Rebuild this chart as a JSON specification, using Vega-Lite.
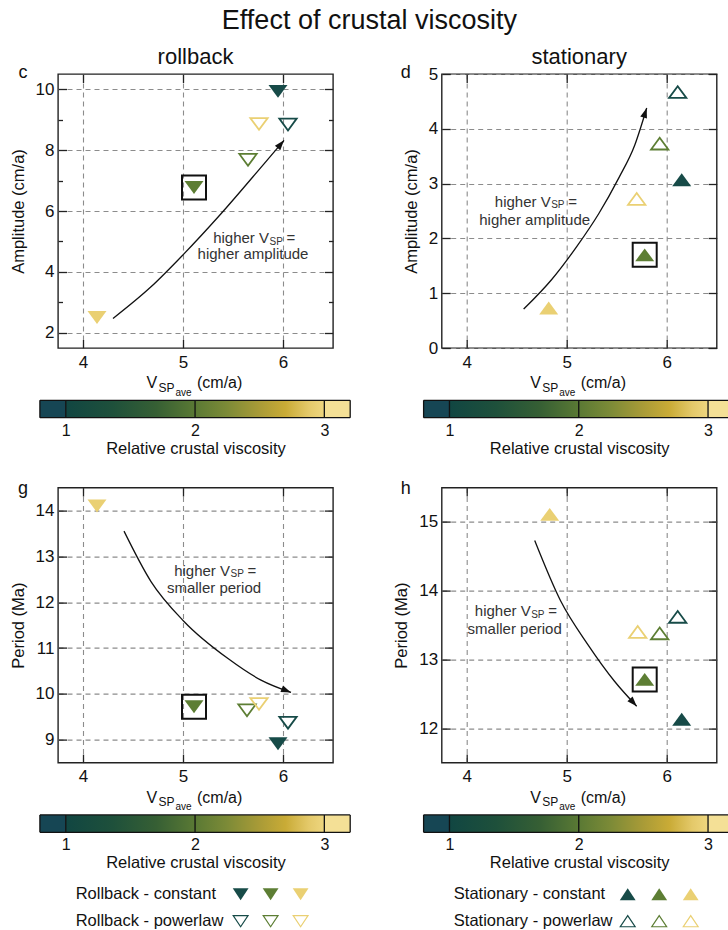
{
  "$schema": "https://vega.github.io/schema/vega-lite/v6.json",
  "padding": {"left": 9, "top": 6, "right": 0, "bottom": 2},
  "title": {"text": "Effect of crustal viscosity", "fontSize": 27, "fontWeight": "normal", "anchor": "middle", "offset": 10, "color": "#111"},
  "datasets": {
    "ampRollback": [
      {"vsp": 5.95, "val": 9.93, "visc": 1, "rheology": "constant"},
      {"vsp": 5.11, "val": 6.77, "visc": 2, "rheology": "constant"},
      {"vsp": 4.14, "val": 2.5, "visc": 3, "rheology": "constant"},
      {"vsp": 6.05, "val": 8.84, "visc": 1, "rheology": "powerlaw"},
      {"vsp": 5.65, "val": 7.68, "visc": 2, "rheology": "powerlaw"},
      {"vsp": 5.76, "val": 8.86, "visc": 3, "rheology": "powerlaw"}
    ],
    "ampStationary": [
      {"vsp": 6.15, "val": 3.07, "visc": 1, "rheology": "constant"},
      {"vsp": 5.78, "val": 1.7, "visc": 2, "rheology": "constant"},
      {"vsp": 4.82, "val": 0.73, "visc": 3, "rheology": "constant"},
      {"vsp": 6.11, "val": 4.67, "visc": 1, "rheology": "powerlaw"},
      {"vsp": 5.93, "val": 3.73, "visc": 2, "rheology": "powerlaw"},
      {"vsp": 5.7, "val": 2.72, "visc": 3, "rheology": "powerlaw"}
    ],
    "perRollback": [
      {"vsp": 5.95, "val": 8.91, "visc": 1, "rheology": "constant"},
      {"vsp": 5.11, "val": 9.72, "visc": 2, "rheology": "constant"},
      {"vsp": 4.14, "val": 14.1, "visc": 3, "rheology": "constant"},
      {"vsp": 6.05, "val": 9.37, "visc": 1, "rheology": "powerlaw"},
      {"vsp": 5.64, "val": 9.64, "visc": 2, "rheology": "powerlaw"},
      {"vsp": 5.76, "val": 9.78, "visc": 3, "rheology": "powerlaw"}
    ],
    "perStationary": [
      {"vsp": 6.15, "val": 12.13, "visc": 1, "rheology": "constant"},
      {"vsp": 5.78, "val": 12.71, "visc": 2, "rheology": "constant"},
      {"vsp": 4.83, "val": 15.11, "visc": 3, "rheology": "constant"},
      {"vsp": 6.11, "val": 13.62, "visc": 1, "rheology": "powerlaw"},
      {"vsp": 5.93, "val": 13.38, "visc": 2, "rheology": "powerlaw"},
      {"vsp": 5.71, "val": 13.4, "visc": 3, "rheology": "powerlaw"}
    ],
    "arrowC": [
      {"vsp": 4.3, "val": 2.47},
      {"vsp": 4.68, "val": 3.51},
      {"vsp": 5.0, "val": 4.56},
      {"vsp": 5.38, "val": 5.91},
      {"vsp": 5.81, "val": 7.55},
      {"vsp": 6.01, "val": 8.32, "tip": true}
    ],
    "arrowD": [
      {"vsp": 4.57, "val": 0.71},
      {"vsp": 4.85, "val": 1.25},
      {"vsp": 5.1, "val": 1.85},
      {"vsp": 5.32, "val": 2.45},
      {"vsp": 5.52, "val": 3.1},
      {"vsp": 5.68, "val": 3.7},
      {"vsp": 5.8, "val": 4.38, "tip": true}
    ],
    "arrowG": [
      {"vsp": 4.41, "val": 13.55},
      {"vsp": 4.68, "val": 12.45},
      {"vsp": 5.01, "val": 11.58},
      {"vsp": 5.45, "val": 10.77},
      {"vsp": 5.78, "val": 10.3},
      {"vsp": 6.08, "val": 10.03, "tip": true}
    ],
    "arrowH": [
      {"vsp": 4.68, "val": 14.73},
      {"vsp": 4.94, "val": 13.85},
      {"vsp": 5.21, "val": 13.22},
      {"vsp": 5.48, "val": 12.68},
      {"vsp": 5.7, "val": 12.32, "tip": true}
    ],
    "notesC": [
      {"vsp": 5.7, "val": 5.11, "part": "lead", "txt": "higher V"},
      {"vsp": 5.7, "val": 5.11, "part": "sub", "txt": "SP"},
      {"vsp": 5.7, "val": 5.11, "part": "tail", "txt": "="},
      {"vsp": 5.7, "val": 4.58, "part": "line2", "txt": "higher amplitude"}
    ],
    "notesD": [
      {"vsp": 4.68, "val": 2.67, "part": "lead", "txt": "higher V"},
      {"vsp": 4.68, "val": 2.67, "part": "sub", "txt": "SP"},
      {"vsp": 4.68, "val": 2.67, "part": "tail", "txt": "="},
      {"vsp": 4.68, "val": 2.33, "part": "line2", "txt": "higher amplitude"}
    ],
    "notesG": [
      {"vsp": 5.31, "val": 12.69, "part": "lead", "txt": "higher V"},
      {"vsp": 5.31, "val": 12.69, "part": "sub", "txt": "SP"},
      {"vsp": 5.31, "val": 12.69, "part": "tail", "txt": "="},
      {"vsp": 5.31, "val": 12.32, "part": "line2", "txt": "smaller period"}
    ],
    "notesH": [
      {"vsp": 4.48, "val": 13.7, "part": "lead", "txt": "higher V"},
      {"vsp": 4.48, "val": 13.7, "part": "sub", "txt": "SP"},
      {"vsp": 4.48, "val": 13.7, "part": "tail", "txt": "="},
      {"vsp": 4.48, "val": 13.44, "part": "line2", "txt": "smaller period"}
    ],
    "cbarRamp": [{"lo": 1, "hi": 3}],
    "cbarUnder": [{"lo": 0.8, "hi": 1}],
    "cbarOverFull": [{"lo": 3, "hi": 3.2}],
    "cbarOverCut": [{"lo": 3, "hi": 3.16}],
    "cbarLinesFull": [{"v": 0.8}, {"v": 1}, {"v": 2}, {"v": 3}, {"v": 3.2}],
    "cbarLinesCut": [{"v": 0.8}, {"v": 1}, {"v": 2}, {"v": 3}],
    "cbarEdgesFull": [{"lo": 0.8, "hi": 3.2, "edge": 0}, {"lo": 0.8, "hi": 3.2, "edge": 1}],
    "cbarEdgesCut": [{"lo": 0.8, "hi": 3.16, "edge": 0}, {"lo": 0.8, "hi": 3.16, "edge": 1}],
    "legendMarks": [
      {"visc": 1, "rheology": "constant"},
      {"visc": 2, "rheology": "constant"},
      {"visc": 3, "rheology": "constant"},
      {"visc": 1, "rheology": "powerlaw"},
      {"visc": 2, "rheology": "powerlaw"},
      {"visc": 3, "rheology": "powerlaw"}
    ],
    "legendRollback": [
      {"rheology": "constant", "txt": "Rollback - constant"},
      {"rheology": "powerlaw", "txt": "Rollback - powerlaw"}
    ],
    "legendStationary": [
      {"rheology": "constant", "txt": "Stationary - constant"},
      {"rheology": "powerlaw", "txt": "Stationary - powerlaw"}
    ]
  },
  "columns": 2,
  "bounds": "flush",
  "spacing": {"row": 52.3, "column": 108.7},
  "concat": [
    {
      "width": 275, "height": 274,
      "title": {"text": "rollback"},
      "resolve": {"axis": {"x": "independent", "y": "independent"}},
      "layer": [
        {
          "data": {"name": "ampRollback"},
          "transform": [{"filter": "datum.rheology === 'constant'"}],
          "mark": {"type": "point", "shape": "M -1 -0.68 L 1 -0.68 L 0 0.68 Z", "filled": true, "size": 361, "opacity": 1},
          "encoding": {
            "x": {"field": "vsp", "type": "quantitative", "scale": {"domain": [3.75, 6.5], "nice": false, "zero": false}, "axis": {"orient": "bottom", "values": [4, 5, 6], "ticks": false, "grid": true, "labelPadding": 6, "labelFlush": false, "title": null}},
            "y": {"field": "val", "type": "quantitative", "scale": {"domain": [1.5, 10.5], "nice": false, "zero": false}, "axis": {"orient": "left", "values": [2, 4, 6, 8, 10], "ticks": false, "grid": true, "labelPadding": 4, "title": "Amplitude (cm/a)", "titlePadding": 9}},
            "color": {"field": "visc", "type": "ordinal", "scale": {"domain": [1, 2, 3], "range": ["#174b48", "#5d7e34", "#ead073"]}, "legend": null}
          }
        },
        {
          "data": {"name": "ampRollback"},
          "transform": [{"filter": "datum.rheology === 'powerlaw'"}],
          "mark": {"type": "point", "shape": "M -1 -0.68 L 1 -0.68 L 0 0.68 Z", "filled": false, "size": 300, "strokeWidth": 1.8, "opacity": 1},
          "encoding": {
            "x": {"field": "vsp", "type": "quantitative", "axis": {"orient": "top", "values": [4, 5, 6], "tickSize": -8.5, "labels": false, "title": null}},
            "y": {"field": "val", "type": "quantitative", "axis": {"orient": "right", "values": [2, 4, 6, 8, 10], "tickSize": -8.5, "labels": false, "title": null}},
            "color": {"field": "visc", "type": "ordinal", "scale": {"domain": [1, 2, 3], "range": ["#174b48", "#5d7e34", "#ead073"]}, "legend": null}
          }
        },
        {
          "data": {"name": "arrowC"},
          "mark": {"type": "line", "interpolate": "monotone", "color": "#111", "strokeWidth": 1.3},
          "encoding": {
            "x": {"field": "vsp", "type": "quantitative", "axis": {"orient": "bottom", "values": [4, 5, 6], "tickSize": -8.5, "labels": false, "title": null}},
            "y": {"field": "val", "type": "quantitative", "axis": {"orient": "left", "values": [2, 4, 6, 8, 10], "tickSize": -8.5, "labels": false, "title": null}}
          }
        },
        {
          "data": {"name": "arrowC"},
          "transform": [{"filter": "datum.tip"}],
          "mark": {"type": "point", "shape": "M 0 0 L 0.7 2 L -0.7 2 Z", "filled": true, "size": 100, "color": "#111", "opacity": 1, "angle": 40},
          "encoding": {
            "x": {"field": "vsp", "type": "quantitative", "axis": null},
            "y": {"field": "val", "type": "quantitative", "axis": {"orient": "left", "values": [3, 5, 7, 9], "tickSize": -4.5, "labels": false, "title": null}}
          }
        },
        {
          "data": {"name": "ampRollback"},
          "transform": [{"filter": "datum.visc === 2 && datum.rheology === 'constant'"}],
          "mark": {"type": "point", "shape": "square", "filled": false, "size": 576, "color": "#111", "strokeWidth": 2, "opacity": 1},
          "encoding": {
            "x": {"field": "vsp", "type": "quantitative", "axis": null},
            "y": {"field": "val", "type": "quantitative", "axis": {"orient": "right", "values": [3, 5, 7, 9], "tickSize": -4.5, "labels": false, "title": null}}
          }
        },
        {
          "data": {"name": "notesC"},
          "transform": [{"filter": "datum.part === 'lead'"}],
          "mark": {"type": "text", "align": "right", "baseline": "middle", "fontSize": 15, "dx": 16, "color": "#333"},
          "encoding": {"x": {"field": "vsp", "type": "quantitative", "axis": null}, "y": {"field": "val", "type": "quantitative", "axis": null}, "text": {"field": "txt"}}
        },
        {
          "data": {"name": "notesC"},
          "transform": [{"filter": "datum.part === 'sub'"}],
          "mark": {"type": "text", "align": "left", "baseline": "middle", "fontSize": 10, "dx": 16.5, "dy": 3.5, "color": "#333"},
          "encoding": {"x": {"field": "vsp", "type": "quantitative", "axis": null}, "y": {"field": "val", "type": "quantitative", "axis": null}, "text": {"field": "txt"}}
        },
        {
          "data": {"name": "notesC"},
          "transform": [{"filter": "datum.part === 'tail'"}],
          "mark": {"type": "text", "align": "left", "baseline": "middle", "fontSize": 15, "dx": 33.5, "color": "#333"},
          "encoding": {"x": {"field": "vsp", "type": "quantitative", "axis": null}, "y": {"field": "val", "type": "quantitative", "axis": null}, "text": {"field": "txt"}}
        },
        {
          "data": {"name": "notesC"},
          "transform": [{"filter": "datum.part === 'line2'"}],
          "mark": {"type": "text", "align": "center", "baseline": "middle", "fontSize": 15, "color": "#333"},
          "encoding": {"x": {"field": "vsp", "type": "quantitative", "axis": null}, "y": {"field": "val", "type": "quantitative", "axis": null}, "text": {"field": "txt"}}
        },
        {"data": {"values": [{}]}, "mark": {"type": "text", "text": "V", "fontSize": 16, "align": "left", "baseline": "alphabetic", "dx": -49, "dy": 40, "color": "#111"}, "encoding": {"x": {"datum": 5.125, "type": "quantitative", "axis": null}, "y": {"datum": 1.5, "type": "quantitative", "axis": null}}},
        {"data": {"values": [{}]}, "mark": {"type": "text", "text": "SP", "fontSize": 12, "align": "left", "baseline": "alphabetic", "dx": -37, "dy": 43.5, "color": "#111"}, "encoding": {"x": {"datum": 5.125, "type": "quantitative", "axis": null}, "y": {"datum": 1.5, "type": "quantitative", "axis": null}}},
        {"data": {"values": [{}]}, "mark": {"type": "text", "text": "ave", "fontSize": 10, "align": "left", "baseline": "alphabetic", "dx": -20, "dy": 47.7, "color": "#111"}, "encoding": {"x": {"datum": 5.125, "type": "quantitative", "axis": null}, "y": {"datum": 1.5, "type": "quantitative", "axis": null}}},
        {"data": {"values": [{}]}, "mark": {"type": "text", "text": "(cm/a)", "fontSize": 16, "align": "left", "baseline": "alphabetic", "dx": 1.5, "dy": 40, "color": "#111"}, "encoding": {"x": {"datum": 5.125, "type": "quantitative", "axis": null}, "y": {"datum": 1.5, "type": "quantitative", "axis": null}}},
        {"data": {"values": [{}]}, "mark": {"type": "text", "text": "c", "fontSize": 18, "align": "center", "baseline": "alphabetic", "dx": -35, "dy": 4, "color": "#111"}, "encoding": {"x": {"datum": 3.75, "type": "quantitative", "axis": null}, "y": {"datum": 10.5, "type": "quantitative", "axis": null}}}
      ]
    },
    {
      "width": 275, "height": 274,
      "title": {"text": "stationary"},
      "resolve": {"axis": {"x": "independent", "y": "independent"}},
      "layer": [
        {
          "data": {"name": "ampStationary"},
          "transform": [{"filter": "datum.rheology === 'constant'"}],
          "mark": {"type": "point", "shape": "M -1 0.68 L 1 0.68 L 0 -0.68 Z", "filled": true, "size": 361, "opacity": 1},
          "encoding": {
            "x": {"field": "vsp", "type": "quantitative", "scale": {"domain": [3.75, 6.5], "nice": false, "zero": false}, "axis": {"orient": "bottom", "values": [4, 5, 6], "ticks": false, "grid": true, "labelPadding": 6, "labelFlush": false, "title": null}},
            "y": {"field": "val", "type": "quantitative", "scale": {"domain": [0, 5], "nice": false, "zero": false}, "axis": {"orient": "left", "values": [0, 1, 2, 3, 4, 5], "ticks": false, "grid": true, "labelPadding": 4, "title": "Amplitude (cm/a)", "titlePadding": 9}},
            "color": {"field": "visc", "type": "ordinal", "scale": {"domain": [1, 2, 3], "range": ["#174b48", "#5d7e34", "#ead073"]}, "legend": null}
          }
        },
        {
          "data": {"name": "ampStationary"},
          "transform": [{"filter": "datum.rheology === 'powerlaw'"}],
          "mark": {"type": "point", "shape": "M -1 0.68 L 1 0.68 L 0 -0.68 Z", "filled": false, "size": 300, "strokeWidth": 1.8, "opacity": 1},
          "encoding": {
            "x": {"field": "vsp", "type": "quantitative", "axis": {"orient": "top", "values": [4, 5, 6], "tickSize": -8.5, "labels": false, "title": null}},
            "y": {"field": "val", "type": "quantitative", "axis": {"orient": "right", "values": [0, 1, 2, 3, 4, 5], "tickSize": -8.5, "labels": false, "title": null}},
            "color": {"field": "visc", "type": "ordinal", "scale": {"domain": [1, 2, 3], "range": ["#174b48", "#5d7e34", "#ead073"]}, "legend": null}
          }
        },
        {
          "data": {"name": "arrowD"},
          "mark": {"type": "line", "interpolate": "monotone", "color": "#111", "strokeWidth": 1.3},
          "encoding": {
            "x": {"field": "vsp", "type": "quantitative", "axis": {"orient": "bottom", "values": [4, 5, 6], "tickSize": -8.5, "labels": false, "title": null}},
            "y": {"field": "val", "type": "quantitative", "axis": {"orient": "left", "values": [0, 1, 2, 3, 4, 5], "tickSize": -8.5, "labels": false, "title": null}}
          }
        },
        {
          "data": {"name": "arrowD"},
          "transform": [{"filter": "datum.tip"}],
          "mark": {"type": "point", "shape": "M 0 0 L 0.7 2 L -0.7 2 Z", "filled": true, "size": 100, "color": "#111", "opacity": 1, "angle": 18},
          "encoding": {"x": {"field": "vsp", "type": "quantitative", "axis": null}, "y": {"field": "val", "type": "quantitative", "axis": null}}
        },
        {
          "data": {"name": "ampStationary"},
          "transform": [{"filter": "datum.visc === 2 && datum.rheology === 'constant'"}],
          "mark": {"type": "point", "shape": "square", "filled": false, "size": 576, "color": "#111", "strokeWidth": 2, "opacity": 1},
          "encoding": {"x": {"field": "vsp", "type": "quantitative", "axis": null}, "y": {"field": "val", "type": "quantitative", "axis": null}}
        },
        {
          "data": {"name": "notesD"},
          "transform": [{"filter": "datum.part === 'lead'"}],
          "mark": {"type": "text", "align": "right", "baseline": "middle", "fontSize": 15, "dx": 16, "color": "#333"},
          "encoding": {"x": {"field": "vsp", "type": "quantitative", "axis": null}, "y": {"field": "val", "type": "quantitative", "axis": null}, "text": {"field": "txt"}}
        },
        {
          "data": {"name": "notesD"},
          "transform": [{"filter": "datum.part === 'sub'"}],
          "mark": {"type": "text", "align": "left", "baseline": "middle", "fontSize": 10, "dx": 16.5, "dy": 3.5, "color": "#333"},
          "encoding": {"x": {"field": "vsp", "type": "quantitative", "axis": null}, "y": {"field": "val", "type": "quantitative", "axis": null}, "text": {"field": "txt"}}
        },
        {
          "data": {"name": "notesD"},
          "transform": [{"filter": "datum.part === 'tail'"}],
          "mark": {"type": "text", "align": "left", "baseline": "middle", "fontSize": 15, "dx": 33.5, "color": "#333"},
          "encoding": {"x": {"field": "vsp", "type": "quantitative", "axis": null}, "y": {"field": "val", "type": "quantitative", "axis": null}, "text": {"field": "txt"}}
        },
        {
          "data": {"name": "notesD"},
          "transform": [{"filter": "datum.part === 'line2'"}],
          "mark": {"type": "text", "align": "center", "baseline": "middle", "fontSize": 15, "color": "#333"},
          "encoding": {"x": {"field": "vsp", "type": "quantitative", "axis": null}, "y": {"field": "val", "type": "quantitative", "axis": null}, "text": {"field": "txt"}}
        },
        {"data": {"values": [{}]}, "mark": {"type": "text", "text": "V", "fontSize": 16, "align": "left", "baseline": "alphabetic", "dx": -49, "dy": 40, "color": "#111"}, "encoding": {"x": {"datum": 5.125, "type": "quantitative", "axis": null}, "y": {"datum": 0, "type": "quantitative", "axis": null}}},
        {"data": {"values": [{}]}, "mark": {"type": "text", "text": "SP", "fontSize": 12, "align": "left", "baseline": "alphabetic", "dx": -37, "dy": 43.5, "color": "#111"}, "encoding": {"x": {"datum": 5.125, "type": "quantitative", "axis": null}, "y": {"datum": 0, "type": "quantitative", "axis": null}}},
        {"data": {"values": [{}]}, "mark": {"type": "text", "text": "ave", "fontSize": 10, "align": "left", "baseline": "alphabetic", "dx": -20, "dy": 47.7, "color": "#111"}, "encoding": {"x": {"datum": 5.125, "type": "quantitative", "axis": null}, "y": {"datum": 0, "type": "quantitative", "axis": null}}},
        {"data": {"values": [{}]}, "mark": {"type": "text", "text": "(cm/a)", "fontSize": 16, "align": "left", "baseline": "alphabetic", "dx": 1.5, "dy": 40, "color": "#111"}, "encoding": {"x": {"datum": 5.125, "type": "quantitative", "axis": null}, "y": {"datum": 0, "type": "quantitative", "axis": null}}},
        {"data": {"values": [{}]}, "mark": {"type": "text", "text": "d", "fontSize": 18, "align": "center", "baseline": "alphabetic", "dx": -36, "dy": 3.5, "color": "#111"}, "encoding": {"x": {"datum": 3.75, "type": "quantitative", "axis": null}, "y": {"datum": 5, "type": "quantitative", "axis": null}}}
      ]
    },
    {
      "width": 275, "height": 34.1,
      "view": {"stroke": null},
      "resolve": {"axis": {"x": "independent", "y": "independent"}},
      "layer": [
        {
          "data": {"name": "cbarRamp"},
          "mark": {"type": "rect", "color": {"gradient": "linear", "x1": 0, "y1": 0, "x2": 1, "y2": 0, "stops": [{"offset": 0, "color": "#114642"}, {"offset": 0.18, "color": "#1e503b"}, {"offset": 0.35, "color": "#365f34"}, {"offset": 0.5, "color": "#5a7934"}, {"offset": 0.62, "color": "#7b8a37"}, {"offset": 0.75, "color": "#a99b37"}, {"offset": 0.85, "color": "#c9ab36"}, {"offset": 0.94, "color": "#e4c96a"}, {"offset": 1, "color": "#eed67f"}]}},
          "encoding": {
            "x": {"field": "lo", "type": "quantitative", "scale": {"domain": [0.94, 3.067], "nice": false, "zero": false}, "axis": {"orient": "bottom", "values": [1, 2, 3], "ticks": false, "grid": false, "labelPadding": 4.5, "labelFontSize": 16, "labelFlush": false, "offset": -16.7, "title": "Relative crustal viscosity", "titlePadding": 2, "titleFontSize": 16.5}},
            "x2": {"field": "hi"},
            "y": {"datum": 1, "type": "quantitative", "scale": {"domain": [-0.96, 1], "nice": false, "zero": false}, "axis": null},
            "y2": {"datum": 0}
          }
        },
        {
          "data": {"name": "cbarUnder"},
          "mark": {"type": "rect", "color": "#164654"},
          "encoding": {"x": {"field": "lo", "type": "quantitative", "axis": null}, "x2": {"field": "hi"}, "y": {"datum": 1, "type": "quantitative", "axis": null}, "y2": {"datum": 0}}
        },
        {
          "data": {"name": "cbarOverFull"},
          "mark": {"type": "rect", "color": "#f4e096"},
          "encoding": {"x": {"field": "lo", "type": "quantitative", "axis": null}, "x2": {"field": "hi"}, "y": {"datum": 1, "type": "quantitative", "axis": null}, "y2": {"datum": 0}}
        },
        {
          "data": {"name": "cbarLinesFull"},
          "mark": {"type": "rule", "color": "#111", "strokeWidth": 1.3},
          "encoding": {"x": {"field": "v", "type": "quantitative", "axis": null}, "y": {"datum": 1, "type": "quantitative", "axis": null}, "y2": {"datum": 0}}
        },
        {
          "data": {"name": "cbarEdgesFull"},
          "mark": {"type": "rule", "color": "#111", "strokeWidth": 1.3},
          "encoding": {"x": {"field": "lo", "type": "quantitative", "axis": null}, "x2": {"field": "hi"}, "y": {"field": "edge", "type": "quantitative", "axis": null}}
        }
      ]
    },
    {
      "width": 275, "height": 34.1,
      "view": {"stroke": null},
      "resolve": {"axis": {"x": "independent", "y": "independent"}},
      "layer": [
        {
          "data": {"name": "cbarRamp"},
          "mark": {"type": "rect", "color": {"gradient": "linear", "x1": 0, "y1": 0, "x2": 1, "y2": 0, "stops": [{"offset": 0, "color": "#114642"}, {"offset": 0.18, "color": "#1e503b"}, {"offset": 0.35, "color": "#365f34"}, {"offset": 0.5, "color": "#5a7934"}, {"offset": 0.62, "color": "#7b8a37"}, {"offset": 0.75, "color": "#a99b37"}, {"offset": 0.85, "color": "#c9ab36"}, {"offset": 0.94, "color": "#e4c96a"}, {"offset": 1, "color": "#eed67f"}]}},
          "encoding": {
            "x": {"field": "lo", "type": "quantitative", "scale": {"domain": [0.94, 3.067], "nice": false, "zero": false}, "axis": {"orient": "bottom", "values": [1, 2, 3], "ticks": false, "grid": false, "labelPadding": 4.5, "labelFontSize": 16, "labelFlush": false, "offset": -16.7, "title": "Relative crustal viscosity", "titlePadding": 2, "titleFontSize": 16.5}},
            "x2": {"field": "hi"},
            "y": {"datum": 1, "type": "quantitative", "scale": {"domain": [-0.96, 1], "nice": false, "zero": false}, "axis": null},
            "y2": {"datum": 0}
          }
        },
        {
          "data": {"name": "cbarUnder"},
          "mark": {"type": "rect", "color": "#164654"},
          "encoding": {"x": {"field": "lo", "type": "quantitative", "axis": null}, "x2": {"field": "hi"}, "y": {"datum": 1, "type": "quantitative", "axis": null}, "y2": {"datum": 0}}
        },
        {
          "data": {"name": "cbarOverCut"},
          "mark": {"type": "rect", "color": "#f4e096"},
          "encoding": {"x": {"field": "lo", "type": "quantitative", "axis": null}, "x2": {"field": "hi"}, "y": {"datum": 1, "type": "quantitative", "axis": null}, "y2": {"datum": 0}}
        },
        {
          "data": {"name": "cbarLinesCut"},
          "mark": {"type": "rule", "color": "#111", "strokeWidth": 1.3},
          "encoding": {"x": {"field": "v", "type": "quantitative", "axis": null}, "y": {"datum": 1, "type": "quantitative", "axis": null}, "y2": {"datum": 0}}
        },
        {
          "data": {"name": "cbarEdgesCut"},
          "mark": {"type": "rule", "color": "#111", "strokeWidth": 1.3},
          "encoding": {"x": {"field": "lo", "type": "quantitative", "axis": null}, "x2": {"field": "hi"}, "y": {"field": "edge", "type": "quantitative", "axis": null}}
        }
      ]
    },
    {
      "width": 275, "height": 275,
      "resolve": {"axis": {"x": "independent", "y": "independent"}},
      "layer": [
        {
          "data": {"name": "perRollback"},
          "transform": [{"filter": "datum.rheology === 'constant'"}],
          "mark": {"type": "point", "shape": "M -1 -0.68 L 1 -0.68 L 0 0.68 Z", "filled": true, "size": 361, "opacity": 1},
          "encoding": {
            "x": {"field": "vsp", "type": "quantitative", "scale": {"domain": [3.75, 6.5], "nice": false, "zero": false}, "axis": {"orient": "bottom", "values": [4, 5, 6], "ticks": false, "grid": true, "labelPadding": 6, "labelFlush": false, "title": null}},
            "y": {"field": "val", "type": "quantitative", "scale": {"domain": [8.5, 14.5], "nice": false, "zero": false}, "axis": {"orient": "left", "values": [9, 10, 11, 12, 13, 14], "ticks": false, "grid": true, "labelPadding": 4, "title": "Period (Ma)", "titlePadding": 9}},
            "color": {"field": "visc", "type": "ordinal", "scale": {"domain": [1, 2, 3], "range": ["#174b48", "#5d7e34", "#ead073"]}, "legend": null}
          }
        },
        {
          "data": {"name": "perRollback"},
          "transform": [{"filter": "datum.rheology === 'powerlaw'"}],
          "mark": {"type": "point", "shape": "M -1 -0.68 L 1 -0.68 L 0 0.68 Z", "filled": false, "size": 300, "strokeWidth": 1.8, "opacity": 1},
          "encoding": {
            "x": {"field": "vsp", "type": "quantitative", "axis": {"orient": "top", "values": [4, 5, 6], "tickSize": -8.5, "labels": false, "title": null}},
            "y": {"field": "val", "type": "quantitative", "axis": {"orient": "right", "values": [9, 10, 11, 12, 13, 14], "tickSize": -8.5, "labels": false, "title": null}},
            "color": {"field": "visc", "type": "ordinal", "scale": {"domain": [1, 2, 3], "range": ["#174b48", "#5d7e34", "#ead073"]}, "legend": null}
          }
        },
        {
          "data": {"name": "arrowG"},
          "mark": {"type": "line", "interpolate": "monotone", "color": "#111", "strokeWidth": 1.3},
          "encoding": {
            "x": {"field": "vsp", "type": "quantitative", "axis": {"orient": "bottom", "values": [4, 5, 6], "tickSize": -8.5, "labels": false, "title": null}},
            "y": {"field": "val", "type": "quantitative", "axis": {"orient": "left", "values": [9, 10, 11, 12, 13, 14], "tickSize": -8.5, "labels": false, "title": null}}
          }
        },
        {
          "data": {"name": "arrowG"},
          "transform": [{"filter": "datum.tip"}],
          "mark": {"type": "point", "shape": "M 0 0 L 0.7 2 L -0.7 2 Z", "filled": true, "size": 100, "color": "#111", "opacity": 1, "angle": 112},
          "encoding": {"x": {"field": "vsp", "type": "quantitative", "axis": null}, "y": {"field": "val", "type": "quantitative", "axis": null}}
        },
        {
          "data": {"name": "perRollback"},
          "transform": [{"filter": "datum.visc === 2 && datum.rheology === 'constant'"}],
          "mark": {"type": "point", "shape": "square", "filled": false, "size": 576, "color": "#111", "strokeWidth": 2, "opacity": 1},
          "encoding": {"x": {"field": "vsp", "type": "quantitative", "axis": null}, "y": {"field": "val", "type": "quantitative", "axis": null}}
        },
        {
          "data": {"name": "notesG"},
          "transform": [{"filter": "datum.part === 'lead'"}],
          "mark": {"type": "text", "align": "right", "baseline": "middle", "fontSize": 15, "dx": 16, "color": "#333"},
          "encoding": {"x": {"field": "vsp", "type": "quantitative", "axis": null}, "y": {"field": "val", "type": "quantitative", "axis": null}, "text": {"field": "txt"}}
        },
        {
          "data": {"name": "notesG"},
          "transform": [{"filter": "datum.part === 'sub'"}],
          "mark": {"type": "text", "align": "left", "baseline": "middle", "fontSize": 10, "dx": 16.5, "dy": 3.5, "color": "#333"},
          "encoding": {"x": {"field": "vsp", "type": "quantitative", "axis": null}, "y": {"field": "val", "type": "quantitative", "axis": null}, "text": {"field": "txt"}}
        },
        {
          "data": {"name": "notesG"},
          "transform": [{"filter": "datum.part === 'tail'"}],
          "mark": {"type": "text", "align": "left", "baseline": "middle", "fontSize": 15, "dx": 33.5, "color": "#333"},
          "encoding": {"x": {"field": "vsp", "type": "quantitative", "axis": null}, "y": {"field": "val", "type": "quantitative", "axis": null}, "text": {"field": "txt"}}
        },
        {
          "data": {"name": "notesG"},
          "transform": [{"filter": "datum.part === 'line2'"}],
          "mark": {"type": "text", "align": "center", "baseline": "middle", "fontSize": 15, "color": "#333"},
          "encoding": {"x": {"field": "vsp", "type": "quantitative", "axis": null}, "y": {"field": "val", "type": "quantitative", "axis": null}, "text": {"field": "txt"}}
        },
        {"data": {"values": [{}]}, "mark": {"type": "text", "text": "V", "fontSize": 16, "align": "left", "baseline": "alphabetic", "dx": -49, "dy": 40, "color": "#111"}, "encoding": {"x": {"datum": 5.125, "type": "quantitative", "axis": null}, "y": {"datum": 8.5, "type": "quantitative", "axis": null}}},
        {"data": {"values": [{}]}, "mark": {"type": "text", "text": "SP", "fontSize": 12, "align": "left", "baseline": "alphabetic", "dx": -37, "dy": 43.5, "color": "#111"}, "encoding": {"x": {"datum": 5.125, "type": "quantitative", "axis": null}, "y": {"datum": 8.5, "type": "quantitative", "axis": null}}},
        {"data": {"values": [{}]}, "mark": {"type": "text", "text": "ave", "fontSize": 10, "align": "left", "baseline": "alphabetic", "dx": -20, "dy": 47.7, "color": "#111"}, "encoding": {"x": {"datum": 5.125, "type": "quantitative", "axis": null}, "y": {"datum": 8.5, "type": "quantitative", "axis": null}}},
        {"data": {"values": [{}]}, "mark": {"type": "text", "text": "(cm/a)", "fontSize": 16, "align": "left", "baseline": "alphabetic", "dx": 1.5, "dy": 40, "color": "#111"}, "encoding": {"x": {"datum": 5.125, "type": "quantitative", "axis": null}, "y": {"datum": 8.5, "type": "quantitative", "axis": null}}},
        {"data": {"values": [{}]}, "mark": {"type": "text", "text": "g", "fontSize": 18, "align": "center", "baseline": "alphabetic", "dx": -35, "dy": 6.5, "color": "#111"}, "encoding": {"x": {"datum": 3.75, "type": "quantitative", "axis": null}, "y": {"datum": 14.5, "type": "quantitative", "axis": null}}}
      ]
    },
    {
      "width": 275, "height": 275,
      "resolve": {"axis": {"x": "independent", "y": "independent"}},
      "layer": [
        {
          "data": {"name": "perStationary"},
          "transform": [{"filter": "datum.rheology === 'constant'"}],
          "mark": {"type": "point", "shape": "M -1 0.68 L 1 0.68 L 0 -0.68 Z", "filled": true, "size": 361, "opacity": 1},
          "encoding": {
            "x": {"field": "vsp", "type": "quantitative", "scale": {"domain": [3.75, 6.5], "nice": false, "zero": false}, "axis": {"orient": "bottom", "values": [4, 5, 6], "ticks": false, "grid": true, "labelPadding": 6, "labelFlush": false, "title": null}},
            "y": {"field": "val", "type": "quantitative", "scale": {"domain": [11.5, 15.5], "nice": false, "zero": false}, "axis": {"orient": "left", "values": [12, 13, 14, 15], "ticks": false, "grid": true, "labelPadding": 4, "title": "Period (Ma)", "titlePadding": 9}},
            "color": {"field": "visc", "type": "ordinal", "scale": {"domain": [1, 2, 3], "range": ["#174b48", "#5d7e34", "#ead073"]}, "legend": null}
          }
        },
        {
          "data": {"name": "perStationary"},
          "transform": [{"filter": "datum.rheology === 'powerlaw'"}],
          "mark": {"type": "point", "shape": "M -1 0.68 L 1 0.68 L 0 -0.68 Z", "filled": false, "size": 300, "strokeWidth": 1.8, "opacity": 1},
          "encoding": {
            "x": {"field": "vsp", "type": "quantitative", "axis": {"orient": "top", "values": [4, 5, 6], "tickSize": -8.5, "labels": false, "title": null}},
            "y": {"field": "val", "type": "quantitative", "axis": {"orient": "right", "values": [12, 13, 14, 15], "tickSize": -8.5, "labels": false, "title": null}},
            "color": {"field": "visc", "type": "ordinal", "scale": {"domain": [1, 2, 3], "range": ["#174b48", "#5d7e34", "#ead073"]}, "legend": null}
          }
        },
        {
          "data": {"name": "arrowH"},
          "mark": {"type": "line", "interpolate": "monotone", "color": "#111", "strokeWidth": 1.3},
          "encoding": {
            "x": {"field": "vsp", "type": "quantitative", "axis": {"orient": "bottom", "values": [4, 5, 6], "tickSize": -8.5, "labels": false, "title": null}},
            "y": {"field": "val", "type": "quantitative", "axis": {"orient": "left", "values": [12, 13, 14, 15], "tickSize": -8.5, "labels": false, "title": null}}
          }
        },
        {
          "data": {"name": "arrowH"},
          "transform": [{"filter": "datum.tip"}],
          "mark": {"type": "point", "shape": "M 0 0 L 0.7 2 L -0.7 2 Z", "filled": true, "size": 100, "color": "#111", "opacity": 1, "angle": 138},
          "encoding": {"x": {"field": "vsp", "type": "quantitative", "axis": null}, "y": {"field": "val", "type": "quantitative", "axis": null}}
        },
        {
          "data": {"name": "perStationary"},
          "transform": [{"filter": "datum.visc === 2 && datum.rheology === 'constant'"}],
          "mark": {"type": "point", "shape": "square", "filled": false, "size": 576, "color": "#111", "strokeWidth": 2, "opacity": 1},
          "encoding": {"x": {"field": "vsp", "type": "quantitative", "axis": null}, "y": {"field": "val", "type": "quantitative", "axis": null}}
        },
        {
          "data": {"name": "notesH"},
          "transform": [{"filter": "datum.part === 'lead'"}],
          "mark": {"type": "text", "align": "right", "baseline": "middle", "fontSize": 15, "dx": 16, "color": "#333"},
          "encoding": {"x": {"field": "vsp", "type": "quantitative", "axis": null}, "y": {"field": "val", "type": "quantitative", "axis": null}, "text": {"field": "txt"}}
        },
        {
          "data": {"name": "notesH"},
          "transform": [{"filter": "datum.part === 'sub'"}],
          "mark": {"type": "text", "align": "left", "baseline": "middle", "fontSize": 10, "dx": 16.5, "dy": 3.5, "color": "#333"},
          "encoding": {"x": {"field": "vsp", "type": "quantitative", "axis": null}, "y": {"field": "val", "type": "quantitative", "axis": null}, "text": {"field": "txt"}}
        },
        {
          "data": {"name": "notesH"},
          "transform": [{"filter": "datum.part === 'tail'"}],
          "mark": {"type": "text", "align": "left", "baseline": "middle", "fontSize": 15, "dx": 33.5, "color": "#333"},
          "encoding": {"x": {"field": "vsp", "type": "quantitative", "axis": null}, "y": {"field": "val", "type": "quantitative", "axis": null}, "text": {"field": "txt"}}
        },
        {
          "data": {"name": "notesH"},
          "transform": [{"filter": "datum.part === 'line2'"}],
          "mark": {"type": "text", "align": "center", "baseline": "middle", "fontSize": 15, "color": "#333"},
          "encoding": {"x": {"field": "vsp", "type": "quantitative", "axis": null}, "y": {"field": "val", "type": "quantitative", "axis": null}, "text": {"field": "txt"}}
        },
        {"data": {"values": [{}]}, "mark": {"type": "text", "text": "V", "fontSize": 16, "align": "left", "baseline": "alphabetic", "dx": -49, "dy": 40, "color": "#111"}, "encoding": {"x": {"datum": 5.125, "type": "quantitative", "axis": null}, "y": {"datum": 11.5, "type": "quantitative", "axis": null}}},
        {"data": {"values": [{}]}, "mark": {"type": "text", "text": "SP", "fontSize": 12, "align": "left", "baseline": "alphabetic", "dx": -37, "dy": 43.5, "color": "#111"}, "encoding": {"x": {"datum": 5.125, "type": "quantitative", "axis": null}, "y": {"datum": 11.5, "type": "quantitative", "axis": null}}},
        {"data": {"values": [{}]}, "mark": {"type": "text", "text": "ave", "fontSize": 10, "align": "left", "baseline": "alphabetic", "dx": -20, "dy": 47.7, "color": "#111"}, "encoding": {"x": {"datum": 5.125, "type": "quantitative", "axis": null}, "y": {"datum": 11.5, "type": "quantitative", "axis": null}}},
        {"data": {"values": [{}]}, "mark": {"type": "text", "text": "(cm/a)", "fontSize": 16, "align": "left", "baseline": "alphabetic", "dx": 1.5, "dy": 40, "color": "#111"}, "encoding": {"x": {"datum": 5.125, "type": "quantitative", "axis": null}, "y": {"datum": 11.5, "type": "quantitative", "axis": null}}},
        {"data": {"values": [{}]}, "mark": {"type": "text", "text": "h", "fontSize": 18, "align": "center", "baseline": "alphabetic", "dx": -36, "dy": 6, "color": "#111"}, "encoding": {"x": {"datum": 3.75, "type": "quantitative", "axis": null}, "y": {"datum": 15.5, "type": "quantitative", "axis": null}}}
      ]
    },
    {
      "width": 275, "height": 17.4,
      "view": {"stroke": null},
      "resolve": {"axis": {"x": "independent", "y": "independent"}},
      "layer": [
        {
          "data": {"name": "cbarRamp"},
          "mark": {"type": "rect", "color": {"gradient": "linear", "x1": 0, "y1": 0, "x2": 1, "y2": 0, "stops": [{"offset": 0, "color": "#114642"}, {"offset": 0.18, "color": "#1e503b"}, {"offset": 0.35, "color": "#365f34"}, {"offset": 0.5, "color": "#5a7934"}, {"offset": 0.62, "color": "#7b8a37"}, {"offset": 0.75, "color": "#a99b37"}, {"offset": 0.85, "color": "#c9ab36"}, {"offset": 0.94, "color": "#e4c96a"}, {"offset": 1, "color": "#eed67f"}]}},
          "encoding": {
            "x": {"field": "lo", "type": "quantitative", "scale": {"domain": [0.94, 3.067], "nice": false, "zero": false}, "axis": {"orient": "bottom", "values": [1, 2, 3], "ticks": false, "grid": false, "labelPadding": 4.5, "labelFontSize": 16, "labelFlush": false, "title": "Relative crustal viscosity", "titlePadding": 2, "titleFontSize": 16.5}},
            "x2": {"field": "hi"},
            "y": {"datum": 1, "type": "quantitative", "scale": {"domain": [0, 1], "nice": false, "zero": false}, "axis": null},
            "y2": {"datum": 0}
          }
        },
        {
          "data": {"name": "cbarUnder"},
          "mark": {"type": "rect", "color": "#164654"},
          "encoding": {"x": {"field": "lo", "type": "quantitative", "axis": null}, "x2": {"field": "hi"}, "y": {"datum": 1, "type": "quantitative", "axis": null}, "y2": {"datum": 0}}
        },
        {
          "data": {"name": "cbarOverFull"},
          "mark": {"type": "rect", "color": "#f4e096"},
          "encoding": {"x": {"field": "lo", "type": "quantitative", "axis": null}, "x2": {"field": "hi"}, "y": {"datum": 1, "type": "quantitative", "axis": null}, "y2": {"datum": 0}}
        },
        {
          "data": {"name": "cbarLinesFull"},
          "mark": {"type": "rule", "color": "#111", "strokeWidth": 1.3},
          "encoding": {"x": {"field": "v", "type": "quantitative", "axis": null}, "y": {"datum": 1, "type": "quantitative", "axis": null}, "y2": {"datum": 0}}
        },
        {
          "data": {"name": "cbarEdgesFull"},
          "mark": {"type": "rule", "color": "#111", "strokeWidth": 1.3},
          "encoding": {"x": {"field": "lo", "type": "quantitative", "axis": null}, "x2": {"field": "hi"}, "y": {"field": "edge", "type": "quantitative", "axis": null}}
        }
      ]
    },
    {
      "width": 275, "height": 17.4,
      "view": {"stroke": null},
      "resolve": {"axis": {"x": "independent", "y": "independent"}},
      "layer": [
        {
          "data": {"name": "cbarRamp"},
          "mark": {"type": "rect", "color": {"gradient": "linear", "x1": 0, "y1": 0, "x2": 1, "y2": 0, "stops": [{"offset": 0, "color": "#114642"}, {"offset": 0.18, "color": "#1e503b"}, {"offset": 0.35, "color": "#365f34"}, {"offset": 0.5, "color": "#5a7934"}, {"offset": 0.62, "color": "#7b8a37"}, {"offset": 0.75, "color": "#a99b37"}, {"offset": 0.85, "color": "#c9ab36"}, {"offset": 0.94, "color": "#e4c96a"}, {"offset": 1, "color": "#eed67f"}]}},
          "encoding": {
            "x": {"field": "lo", "type": "quantitative", "scale": {"domain": [0.94, 3.067], "nice": false, "zero": false}, "axis": {"orient": "bottom", "values": [1, 2, 3], "ticks": false, "grid": false, "labelPadding": 4.5, "labelFontSize": 16, "labelFlush": false, "title": "Relative crustal viscosity", "titlePadding": 2, "titleFontSize": 16.5}},
            "x2": {"field": "hi"},
            "y": {"datum": 1, "type": "quantitative", "scale": {"domain": [0, 1], "nice": false, "zero": false}, "axis": null},
            "y2": {"datum": 0}
          }
        },
        {
          "data": {"name": "cbarUnder"},
          "mark": {"type": "rect", "color": "#164654"},
          "encoding": {"x": {"field": "lo", "type": "quantitative", "axis": null}, "x2": {"field": "hi"}, "y": {"datum": 1, "type": "quantitative", "axis": null}, "y2": {"datum": 0}}
        },
        {
          "data": {"name": "cbarOverCut"},
          "mark": {"type": "rect", "color": "#f4e096"},
          "encoding": {"x": {"field": "lo", "type": "quantitative", "axis": null}, "x2": {"field": "hi"}, "y": {"datum": 1, "type": "quantitative", "axis": null}, "y2": {"datum": 0}}
        },
        {
          "data": {"name": "cbarLinesCut"},
          "mark": {"type": "rule", "color": "#111", "strokeWidth": 1.3},
          "encoding": {"x": {"field": "v", "type": "quantitative", "axis": null}, "y": {"datum": 1, "type": "quantitative", "axis": null}, "y2": {"datum": 0}}
        },
        {
          "data": {"name": "cbarEdgesCut"},
          "mark": {"type": "rule", "color": "#111", "strokeWidth": 1.3},
          "encoding": {"x": {"field": "lo", "type": "quantitative", "axis": null}, "x2": {"field": "hi"}, "y": {"field": "edge", "type": "quantitative", "axis": null}}
        }
      ]
    },
    {
      "width": 275, "height": 44,
      "view": {"stroke": null},
      "layer": [
        {
          "data": {"name": "legendRollback"},
          "mark": {"type": "text", "align": "left", "baseline": "middle", "fontSize": 16.5, "color": "#111"},
          "encoding": {
            "x": {"datum": -4.5, "type": "quantitative", "scale": {"domain": [-5.09, 4.08], "nice": false, "zero": false}, "axis": null},
            "y": {"field": "rheology", "type": "nominal", "scale": {"domain": ["constant", "powerlaw"], "range": [9, 36], "padding": 0}, "axis": null},
            "text": {"field": "txt"}
          }
        },
        {
          "data": {"name": "legendMarks"},
          "transform": [{"filter": "datum.rheology === 'constant'"}],
          "mark": {"type": "point", "shape": "M -1 -0.75 L 1 -0.75 L 0 0.75 Z", "filled": true, "size": 250, "opacity": 1},
          "encoding": {
            "x": {"field": "visc", "type": "quantitative", "axis": null},
            "y": {"field": "rheology", "type": "nominal", "axis": null},
            "color": {"field": "visc", "type": "ordinal", "scale": {"domain": [1, 2, 3], "range": ["#174b48", "#5d7e34", "#ead073"]}, "legend": null}
          }
        },
        {
          "data": {"name": "legendMarks"},
          "transform": [{"filter": "datum.rheology === 'powerlaw'"}],
          "mark": {"type": "point", "shape": "M -1 -0.75 L 1 -0.75 L 0 0.75 Z", "filled": false, "size": 220, "strokeWidth": 1.2, "opacity": 1},
          "encoding": {
            "x": {"field": "visc", "type": "quantitative", "axis": null},
            "y": {"field": "rheology", "type": "nominal", "axis": null},
            "color": {"field": "visc", "type": "ordinal", "scale": {"domain": [1, 2, 3], "range": ["#174b48", "#5d7e34", "#ead073"]}, "legend": null}
          }
        }
      ]
    },
    {
      "width": 275, "height": 44,
      "view": {"stroke": null},
      "layer": [
        {
          "data": {"name": "legendStationary"},
          "mark": {"type": "text", "align": "left", "baseline": "middle", "fontSize": 16.5, "color": "#111"},
          "encoding": {
            "x": {"datum": -4.52, "type": "quantitative", "scale": {"domain": [-4.905, 3.825], "nice": false, "zero": false}, "axis": null},
            "y": {"field": "rheology", "type": "nominal", "scale": {"domain": ["constant", "powerlaw"], "range": [9, 36], "padding": 0}, "axis": null},
            "text": {"field": "txt"}
          }
        },
        {
          "data": {"name": "legendMarks"},
          "transform": [{"filter": "datum.rheology === 'constant'"}],
          "mark": {"type": "point", "shape": "M -1 0.75 L 1 0.75 L 0 -0.75 Z", "filled": true, "size": 250, "opacity": 1},
          "encoding": {
            "x": {"field": "visc", "type": "quantitative", "axis": null},
            "y": {"field": "rheology", "type": "nominal", "axis": null},
            "color": {"field": "visc", "type": "ordinal", "scale": {"domain": [1, 2, 3], "range": ["#174b48", "#5d7e34", "#ead073"]}, "legend": null}
          }
        },
        {
          "data": {"name": "legendMarks"},
          "transform": [{"filter": "datum.rheology === 'powerlaw'"}],
          "mark": {"type": "point", "shape": "M -1 0.75 L 1 0.75 L 0 -0.75 Z", "filled": false, "size": 220, "strokeWidth": 1.2, "opacity": 1},
          "encoding": {
            "x": {"field": "visc", "type": "quantitative", "axis": null},
            "y": {"field": "rheology", "type": "nominal", "axis": null},
            "color": {"field": "visc", "type": "ordinal", "scale": {"domain": [1, 2, 3], "range": ["#174b48", "#5d7e34", "#ead073"]}, "legend": null}
          }
        }
      ]
    }
  ],
  "config": {
    "font": "Liberation Sans",
    "background": "white",
    "view": {"stroke": "#222", "strokeWidth": 1.4},
    "title": {"fontSize": 22, "fontWeight": "normal", "color": "#111", "offset": -5},
    "axis": {
      "labelFont": "Liberation Sans", "titleFont": "Liberation Sans",
      "labelFontSize": 17, "titleFontSize": 16.5, "titleFontWeight": "normal",
      "labelColor": "#111", "titleColor": "#111",
      "domain": false, "grid": false,
      "gridColor": "#8c8c8c", "gridDash": [5, 4], "gridWidth": 1.1,
      "tickColor": "#222", "tickWidth": 1.3
    }
  }
}
